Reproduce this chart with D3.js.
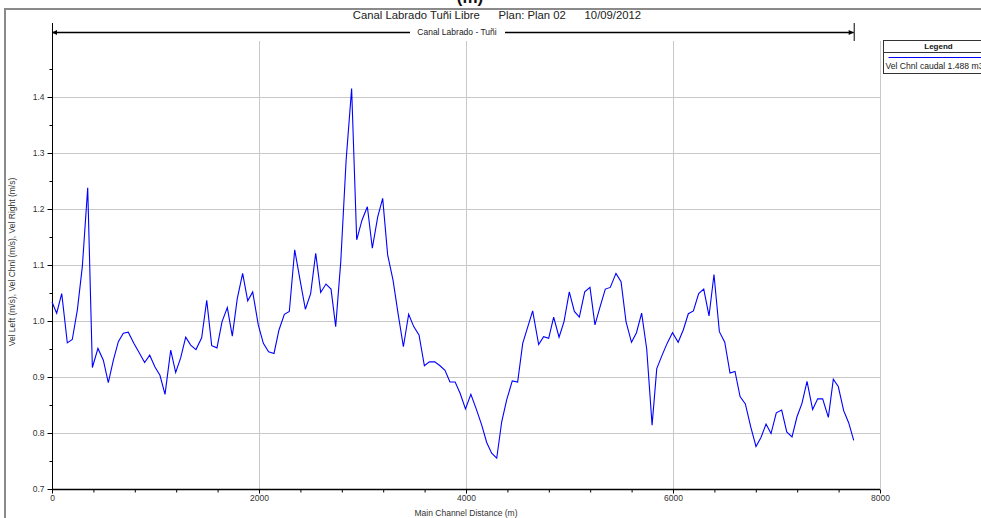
<!DOCTYPE html>
<html>
<head>
<meta charset="utf-8">
<script src="https://cdn.jsdelivr.net/npm/d3@7"></script>
<style>
  body { margin: 0; background: #fff; }
  svg { display: block; font-family: "Liberation Sans", Arial, sans-serif; }
</style>
</head>
<body>
<svg width="981" height="518"></svg>
<script>
// main channel distance (m)
var distances = [0, 45, 94, 148, 196, 245, 293, 345, 390, 444, 496, 544, 593, 641, 689, 737, 792, 844, 895, 944,
  995, 1043, 1092, 1147, 1195, 1243, 1292, 1340, 1391, 1446, 1495, 1543, 1594, 1643, 1694, 1742, 1790, 1842, 1891, 1939,
  1993, 2042, 2093, 2145, 2193, 2245, 2293, 2345, 2396, 2448, 2499, 2548, 2596, 2647, 2696, 2741, 2790, 2842, 2895, 2944,
  2995, 3047, 3095, 3147, 3195, 3243, 3295, 3343, 3395, 3446, 3495, 3546, 3598, 3646, 3698, 3749, 3797, 3845, 3895, 3943,
  3995, 4047, 4097, 4152, 4200, 4248, 4297, 4345, 4393, 4447, 4499, 4548, 4596, 4644, 4702, 4750, 4799, 4847, 4899, 4947,
  4998, 5047, 5095, 5147, 5198, 5246, 5298, 5346, 5394, 5449, 5498, 5546, 5599, 5647, 5697, 5746, 5798, 5843, 5895, 5943,
  5995, 6050, 6099, 6148, 6197, 6248, 6297, 6348, 6396, 6448, 6500, 6551, 6599, 6648, 6699, 6751, 6802, 6850, 6899, 6947,
  6998, 7050, 7099, 7150, 7198, 7246, 7295, 7349, 7398, 7446, 7501, 7549, 7597, 7649, 7698, 7746];

// Vel Chnl (m/s)
var velChnl = [1.034, 1.014, 1.049, 0.961, 0.967, 1.020, 1.097, 1.238, 0.917, 0.951, 0.930, 0.890, 0.930, 0.963, 0.978, 0.980, 0.960, 0.943, 0.926, 0.939,
  0.918, 0.903, 0.869, 0.948, 0.908, 0.934, 0.971, 0.957, 0.949, 0.970, 1.037, 0.956, 0.952, 0.999, 1.024, 0.973, 1.040, 1.085, 1.036, 1.052,
  0.993, 0.960, 0.945, 0.942, 0.984, 1.012, 1.017, 1.127, 1.074, 1.021, 1.049, 1.121, 1.051, 1.066, 1.057, 0.990, 1.106, 1.288, 1.415, 1.145,
  1.180, 1.204, 1.130, 1.186, 1.219, 1.118, 1.073, 1.014, 0.954, 1.012, 0.990, 0.975, 0.920, 0.927, 0.927, 0.920, 0.912, 0.891, 0.891, 0.871,
  0.843, 0.869, 0.844, 0.814, 0.783, 0.764, 0.755, 0.820, 0.859, 0.893, 0.891, 0.960, 0.989, 1.018, 0.958, 0.972, 0.969, 1.007, 0.971, 0.999,
  1.052, 1.017, 1.007, 1.052, 1.060, 0.993, 1.027, 1.057, 1.060, 1.085, 1.070, 0.999, 0.962, 0.979, 1.014, 0.950, 0.814, 0.915, 0.939, 0.960,
  0.979, 0.962, 0.984, 1.013, 1.018, 1.049, 1.057, 1.009, 1.083, 0.981, 0.962, 0.907, 0.910, 0.865, 0.852, 0.811, 0.776, 0.792, 0.816, 0.799,
  0.836, 0.841, 0.802, 0.793, 0.829, 0.853, 0.892, 0.842, 0.861, 0.861, 0.828, 0.896, 0.883, 0.840, 0.818, 0.787];

var xTicks = [0, 2000, 4000, 6000, 8000];
var yTicks = [0.7, 0.8, 0.9, 1.0, 1.1, 1.2, 1.3, 1.4];
var titleText = 'Canal Labrado Tuñi Libre      Plan: Plan 02      10/09/2012';
var reachName = 'Canal Labrado - Tuñi';
var legendTitle = 'Legend';
var seriesName = 'Vel Chnl caudal 1.488 m3/s';

var svg = d3.select('svg');
var narrow = '"Liberation Sans Narrow", "Liberation Sans", Arial, sans-serif';

var xScale = d3.scaleLinear().domain([0, 8000]).range([52, 880]);
var yScale = d3.scaleLinear().domain([0.7, 1.5]).range([489, 41]);

// outer frame
svg.append('path')
    .attr('d', 'M5,518 V9 H981')
    .attr('fill', 'none')
    .attr('stroke', '#8a8a8a')
    .attr('stroke-width', 2);

// heading above the frame, only its lower edge shows
svg.append('text')
    .attr('x', 470)
    .attr('y', 3)
    .attr('text-anchor', 'middle')
    .attr('font-size', 17)
    .attr('font-weight', 'bold')
    .attr('fill', '#111')
    .text('(m)');

svg.append('text')
    .attr('x', 497)
    .attr('y', 19)
    .attr('text-anchor', 'middle')
    .attr('font-size', 11.3)
    .attr('fill', '#222')
    .attr('xml:space', 'preserve')
    .style('white-space', 'pre')
    .text(titleText);

// grid
var gridG = svg.append('g').attr('stroke', '#c8c8c8').attr('stroke-width', 1);
gridG.selectAll('line.h')
    .data(yTicks.slice(1))
    .enter().append('line')
    .attr('class', 'h')
    .attr('x1', xScale(0)).attr('x2', xScale(8000))
    .attr('y1', function(d) { return Math.round(yScale(d)) + 0.5; })
    .attr('y2', function(d) { return Math.round(yScale(d)) + 0.5; });
gridG.selectAll('line.v')
    .data(xTicks.slice(1))
    .enter().append('line')
    .attr('class', 'v')
    .attr('x1', function(d) { return Math.round(xScale(d)) + 0.5; })
    .attr('x2', function(d) { return Math.round(xScale(d)) + 0.5; })
    .attr('y1', yScale(1.5)).attr('y2', yScale(0.7));

// y axis
var yAxis = d3.axisLeft(yScale)
    .tickValues(yTicks)
    .tickSize(5)
    .tickFormat(d3.format('.1f'));
var yAxisG = svg.append('g')
    .attr('class', 'y-axis')
    .attr('transform', 'translate(52.5,0)')
    .call(yAxis);
yAxisG.select('.domain').remove();
yAxisG.selectAll('text')
    .attr('font-size', 8.5)
    .attr('fill', '#333')
    .style('font-family', narrow);
svg.append('g')
    .attr('transform', 'translate(52.5,0)')
    .call(d3.axisLeft(yScale).tickValues(d3.range(0.75, 1.5, 0.1)).tickSize(3).tickFormat(''))
    .select('.domain').remove();
svg.append('line')
    .attr('x1', 52.5).attr('x2', 52.5)
    .attr('y1', 23).attr('y2', 489.5)
    .attr('stroke', '#000');

// x axis
var xAxis = d3.axisBottom(xScale)
    .tickValues(xTicks)
    .tickSize(4)
    .tickFormat(d3.format('d'));
var xAxisG = svg.append('g')
    .attr('class', 'x-axis')
    .attr('transform', 'translate(0,489.5)')
    .call(xAxis);
xAxisG.select('.domain').attr('d', 'M52,0H880').attr('stroke-width', 1.6);
xAxisG.selectAll('text')
    .attr('font-size', 8.5)
    .attr('fill', '#333')
    .attr('dy', '0.5em')
    .style('font-family', narrow);
svg.append('g')
    .attr('transform', 'translate(0,489.5)')
    .call(d3.axisBottom(xScale).tickValues(d3.range(400, 8000, 400)).tickSize(3).tickFormat(''))
    .select('.domain').remove();

svg.append('text')
    .attr('x', 466)
    .attr('y', 516)
    .attr('text-anchor', 'middle')
    .attr('font-size', 8.5)
    .attr('fill', '#333')
    .style('font-family', narrow)
    .text('Main Channel Distance (m)');

svg.append('text')
    .attr('transform', 'translate(15,262) rotate(-90)')
    .attr('text-anchor', 'middle')
    .attr('font-size', 8.5)
    .attr('fill', '#333')
    .text('Vel Left (m/s), Vel Chnl (m/s), Vel Right (m/s)');

// reach bar
var reachStart = xScale(distances[0]);
var reachEnd = xScale(distances[distances.length - 1]);
var reachY = 32.5;
svg.append('line')
    .attr('x1', reachStart).attr('x2', 410)
    .attr('y1', reachY).attr('y2', reachY)
    .attr('stroke', '#000').attr('stroke-width', 1.3);
svg.append('line')
    .attr('x1', 505).attr('x2', reachEnd)
    .attr('y1', reachY).attr('y2', reachY)
    .attr('stroke', '#000').attr('stroke-width', 1.3);
svg.append('path')
    .attr('d', 'M' + reachStart + ',' + reachY + 'l5,-2.5v5z')
    .attr('fill', '#000');
svg.append('path')
    .attr('d', 'M' + reachEnd + ',' + reachY + 'l-5,-2.5v5z')
    .attr('fill', '#000');
svg.append('line')
    .attr('x1', reachEnd + 0.5).attr('x2', reachEnd + 0.5)
    .attr('y1', 23).attr('y2', 41)
    .attr('stroke', '#000');
svg.append('text')
    .attr('x', 457)
    .attr('y', 35)
    .attr('text-anchor', 'middle')
    .attr('font-size', 8.5)
    .attr('fill', '#222')
    .style('font-family', narrow)
    .text(reachName);

// data line
var line = d3.line()
    .x(function(d, i) { return xScale(distances[i]); })
    .y(function(d) { return yScale(d); });
svg.append('path')
    .datum(velChnl)
    .attr('d', line)
    .attr('fill', 'none')
    .attr('stroke', '#0000ff')
    .attr('stroke-width', 1.1);

// legend
var legendG = svg.append('g').attr('transform', 'translate(883.5,40.5)');
legendG.append('rect')
    .attr('width', 110).attr('height', 33)
    .attr('fill', '#fff')
    .attr('stroke', '#333');
legendG.append('line')
    .attr('x1', 0).attr('x2', 110)
    .attr('y1', 12).attr('y2', 12)
    .attr('stroke', '#333');
legendG.append('text')
    .attr('x', 55).attr('y', 8.5)
    .attr('text-anchor', 'middle')
    .attr('font-size', 8)
    .attr('font-weight', 'bold')
    .attr('fill', '#111')
    .text(legendTitle);
legendG.append('line')
    .attr('x1', 5).attr('x2', 110)
    .attr('y1', 17).attr('y2', 17)
    .attr('stroke', '#0000ff').attr('stroke-width', 1.2);
legendG.append('text')
    .attr('x', 2).attr('y', 28.5)
    .attr('font-size', 8.6)
    .attr('fill', '#222')
    .text(seriesName);
</script>
</body>
</html>
